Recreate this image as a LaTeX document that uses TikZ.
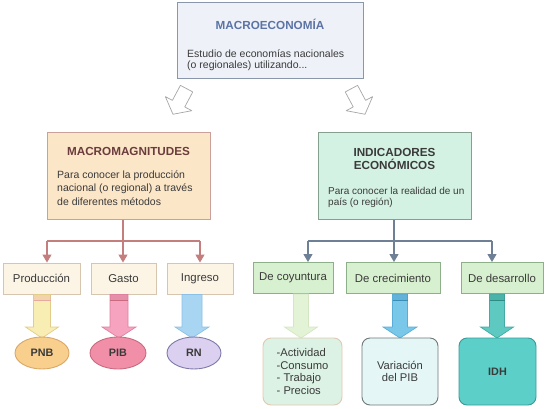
\documentclass[tikz,border=0pt]{standalone}
\usepackage{fontspec}
\setmainfont{Liberation Sans}
\usetikzlibrary{arrows.meta,shapes.geometric}
\definecolor{txt}{HTML}{3A3A3A}
\definecolor{topfill}{HTML}{EEF2F8}
\definecolor{topdraw}{HTML}{8A96AA}
\definecolor{toptitle}{HTML}{5B73A5}
\definecolor{mmfill}{HTML}{FCE6C8}
\definecolor{mmdraw}{HTML}{C9A09A}
\definecolor{mmtitle}{HTML}{6A3C3C}
\definecolor{iefill}{HTML}{D4F2E3}
\definecolor{iedraw}{HTML}{86A090}
\definecolor{lbfill}{HTML}{FCF5E6}
\definecolor{lbdraw}{HTML}{D6C6B0}
\definecolor{rbfill}{HTML}{D7F0CF}
\definecolor{rbdraw}{HTML}{8DB08A}
\definecolor{lconn}{HTML}{C47E7E}
\definecolor{rconn}{HTML}{6E8096}
\definecolor{aPf}{HTML}{F8EDB2}\definecolor{aPd}{HTML}{E2CC8A}\definecolor{aPb}{HTML}{E8A8A0}
\definecolor{aGf}{HTML}{F5A3BE}\definecolor{aGd}{HTML}{E080A0}\definecolor{aGb}{HTML}{C86A80}
\definecolor{aIf}{HTML}{A8D6F2}\definecolor{aId}{HTML}{8CC0E4}
\definecolor{aCf}{HTML}{E3F3D6}\definecolor{aCd}{HTML}{D5E6C5}
\definecolor{aRf}{HTML}{79C8EA}\definecolor{aRd}{HTML}{5AAED6}\definecolor{aRb}{HTML}{3C8CB8}
\definecolor{aDf}{HTML}{5DC9C0}\definecolor{aDd}{HTML}{44AAA2}\definecolor{aDb}{HTML}{2E8C86}
\definecolor{ePf}{HTML}{F9CF8E}\definecolor{ePd}{HTML}{D9A766}
\definecolor{eGf}{HTML}{F28FA8}\definecolor{eGd}{HTML}{C86A80}
\definecolor{eRf}{HTML}{DCD0F0}\definecolor{eRd}{HTML}{7D7AA8}
\definecolor{b1f}{HTML}{DCF2E4}\definecolor{b1d}{HTML}{E2C8B0}
\definecolor{b2f}{HTML}{E4F6F5}\definecolor{b2d}{HTML}{707878}
\definecolor{b3f}{HTML}{5CCFC8}\definecolor{b3d}{HTML}{3A9A98}
\newcommand\blkdown[7]{%
  \draw[#1] (#2-#6,#3) -- (#2+#6,#3) -- (#2+#6,#4) -- (#2+#7,#4) -- (#2,#5)
    -- (#2-#7,#4) -- (#2-#6,#4) -- cycle;}
\newcommand\blkband[4]{%
  \fill[#1,opacity=0.35] (#2-#4,#3) rectangle (#2+#4,#3+6);
  \draw[#1,line width=0.8pt] (#2-#4,#3+6) -- (#2+#4,#3+6);}
\begin{document}
\begin{tikzpicture}[x=1pt,y=-1pt,
  txtfont/.style={font=\fontsize{10.5}{12.5}\selectfont, text=txt},
  ttl/.style={font=\fontsize{11.7}{13.5}\selectfont\bfseries},
  bigbox/.style={draw, line width=1pt, inner sep=0pt},
  smallbox/.style={draw, line width=0.9pt, minimum height=31, inner sep=0pt,
     font=\fontsize{11.4}{13}\selectfont, text=txt},
  lsmall/.style={smallbox, fill=lbfill, draw=lbdraw},
  rsmall/.style={smallbox, fill=rbfill, draw=rbdraw},
  lline/.style={draw=lconn, line width=1.1pt},
  rline/.style={draw=rconn, line width=1.1pt},
  ltip/.style={lline, -{Triangle[width=9pt,length=8pt]}},
  rtip/.style={rline, -{Triangle[width=9pt,length=8pt]}},
  ell/.style={ellipse, draw, line width=0.9pt, minimum height=32, inner sep=0pt,
     font=\fontsize{10.8}{12}\selectfont\bfseries, text=txt},
  rbox/.style={draw, rounded corners=8pt, line width=0.9pt, minimum height=67,
     inner sep=0pt, font=\fontsize{11.2}{12.4}\selectfont, text=txt, align=left},
  hollow/.style={draw=gray!70, fill=white, line width=0.7pt, line join=round}
]
\useasboundingbox (0,0) rectangle (550,408);

% top box
\node[bigbox, fill=topfill, draw=topdraw, minimum width=186, minimum height=76] (macro) at (270,40) {};
\node[ttl, text=toptitle, anchor=base] (macrot) at (270,29) {MACROECONOMÍA};
\node[txtfont, anchor=base west, inner sep=0pt] (macro1) at (187,57) {Estudio de economías nacionales};
\node[txtfont, anchor=base west, inner sep=0pt] (macro2) at (187,68) {(o regionales) utilizando...};

% hollow arrows
\begin{scope}[shift={(180,101)}, rotate=-118]
  \draw[hollow] (-14,-7) -- (3,-7) -- (3,-15) -- (15,0) -- (3,15) -- (3,7) -- (-14,7) -- cycle;
\end{scope}
\begin{scope}[shift={(358,101)}, rotate=-62]
  \draw[hollow] (-14,-7) -- (3,-7) -- (3,-15) -- (15,0) -- (3,15) -- (3,7) -- (-14,7) -- cycle;
\end{scope}

% left big box
\node[bigbox, fill=mmfill, draw=mmdraw, minimum width=163, minimum height=87] (mm) at (128.5,175.5) {};
\node[ttl, text=mmtitle, anchor=base] (mmt) at (128.5,155) {MACROMAGNITUDES};
\node[txtfont, anchor=base west, inner sep=0pt] (mm1) at (57,178) {Para conocer la producción};
\node[txtfont, anchor=base west, inner sep=0pt] (mm2) at (57,191.5) {nacional (o regional) a través};
\node[txtfont, anchor=base west, inner sep=0pt] (mm3) at (57,205) {de diferentes métodos};

% right big box
\node[bigbox, fill=iefill, draw=iedraw, minimum width=153, minimum height=87] (ie) at (394.5,175.5) {};
\node[ttl, text=txt, anchor=base] (iet1) at (394.5,156) {INDICADORES};
\node[ttl, text=txt, anchor=base] (iet2) at (394.5,169.5) {ECONÓMICOS};
\node[font=\fontsize{10}{12}\selectfont, text=txt, anchor=base west, inner sep=0pt] (ie1) at (328,194) {Para conocer la realidad de un};
\node[font=\fontsize{10}{12}\selectfont, text=txt, anchor=base west, inner sep=0pt] (ie2) at (328,205.5) {país (o región)};

% left small boxes
\node[lsmall, minimum width=77] (prod) at (41.5,278.5) {Producción};
\node[lsmall, minimum width=65] (gasto) at (123.5,278.5) {Gasto};
\node[lsmall, minimum width=66] (ingr) at (200,278.5) {Ingreso};

% right small boxes
\node[rsmall, minimum width=80] (coy) at (293,278) {De coyuntura};
\node[rsmall, minimum width=94] (crec) at (393,278) {De crecimiento};
\node[rsmall, minimum width=82] (desa) at (502,278) {De desarrollo};

% left connectors
\coordinate (lj) at (123,241);
\coordinate (lpa) at (47,241);
\coordinate (lpc) at (200,241);
\draw[lline] (mm.south -| lj) -- (lj);
\draw[lline] (lpa) -- (lpc);
\draw[ltip] (lpa) -- (lpa |- prod.north);
\draw[ltip] (lj) -- (lj |- gasto.north);
\draw[ltip] (lpc) -- (lpc |- ingr.north);

% right connectors
\coordinate (rj) at (394,241);
\coordinate (rpa) at (308,241);
\coordinate (rpc) at (492,241);
\draw[rline] (ie.south -| rj) -- (rj);
\draw[rline] (rpa) -- (rpc);
\draw[rtip] (rpa) -- (rpa |- coy.north);
\draw[rtip] (rj) -- (rj |- crec.north);
\draw[rtip] (rpc) -- (rpc |- desa.north);

% block arrows left
\blkdown{fill=aPf, draw=aPd, line width=0.7pt}{42}{294.5}{327}{338}{8.5}{16.5}
\blkband{aPb}{42}{294.5}{8.5}
\blkdown{fill=aGf, draw=aGd, line width=0.7pt}{119}{294.5}{327}{338}{9}{17}
\blkband{aGb}{119}{294.5}{9}
\blkdown{fill=aIf, draw=aId, line width=0.7pt}{192}{294.5}{327}{338}{10}{17}

% block arrows right
\blkdown{fill=aCf, draw=aCd, line width=0.7pt}{301}{294}{327}{338}{7.5}{16.5}
\blkdown{fill=aRf, draw=aRd, line width=0.7pt}{400}{294}{327}{338}{7.5}{17}
\blkband{aRb}{400}{294}{7.5}
\blkdown{fill=aDf, draw=aDd, line width=0.7pt}{497}{294}{327}{338}{7.5}{16.5}
\blkband{aDb}{497}{294}{7.5}

% ellipses
\node[ell, fill=ePf, draw=ePd, minimum width=54] (pnb) at (42,353) {PNB};
\node[ell, fill=eGf, draw=eGd, minimum width=56] (pib) at (118,353) {PIB};
\node[ell, fill=eRf, draw=eRd, minimum width=54] (rn) at (194,353) {RN};

% bottom right boxes
\node[rbox, fill=b1f, draw=b1d, minimum width=79] (act) at (302.5,371.5)
  {-Actividad\\-Consumo\\- Trabajo\\- Precios};
\node[rbox, fill=b2f, draw=b2d, minimum width=76, align=center] (var) at (400,371.5)
  {Variación\\del PIB};
\node[rbox, fill=b3f, draw=b3d, minimum width=77, font=\fontsize{10.8}{12}\selectfont\bfseries] (idh) at (497.5,371.5)
  {IDH};
\end{tikzpicture}
\end{document}
